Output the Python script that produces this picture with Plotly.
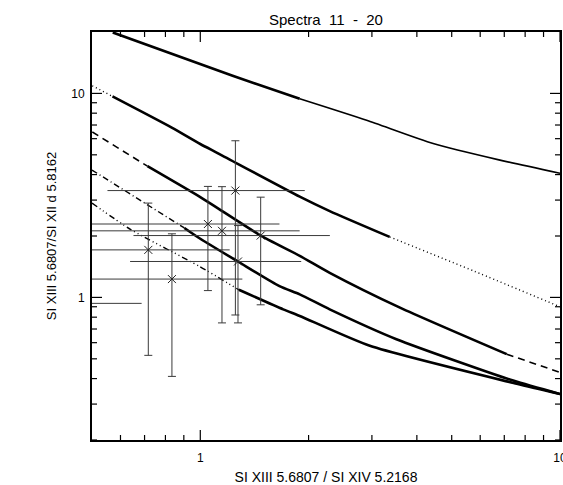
import plotly.graph_objects as go

# ---------------- data ----------------
# Curve A (top) : thick left part, thinner right part
a_x = [0.571, 1.23, 1.89, 2.90, 4.44, 6.81, 10.0]
a_y = [19.9, 12.2, 9.42, 7.39, 5.68, 4.71, 4.06]

# Curve B : dotted / solid / dotted
b_dot1_x = [0.501, 0.570]
b_dot1_y = [10.9, 9.67]
b_x = [0.570, 0.833, 1.0, 1.117, 1.89, 2.29, 3.36]
b_y = [9.67, 6.8, 5.65, 5.1, 3.12, 2.65, 1.98]
b_dot2_x = [3.36, 5.8, 10.0]
b_dot2_y = [1.98, 1.34, 0.90]

# Curve C : dashed / solid / dashed
c_dash1_x = [0.501, 0.713]
c_dash1_y = [6.47, 4.40]
c_x = [0.713, 0.995, 1.117, 1.472, 1.89, 2.29, 3.59, 7.11]
c_y = [4.40, 3.12, 2.74, 2.01, 1.60, 1.32, 0.891, 0.527]
c_dash2_x = [7.11, 10.0]
c_dash2_y = [0.527, 0.429]

# Curve D : dash-dot / solid
d_dd_x = [0.5, 0.903]
d_dd_y = [4.21, 2.19]
d_x = [0.903, 0.995, 1.272, 1.66, 1.89, 2.29, 3.51, 7.41, 10.0]
d_y = [2.19, 1.95, 1.50, 1.135, 1.035, 0.874, 0.624, 0.391, 0.336]

# Curve E : dash-dot-dot-dot / solid
e_ddd_x = [0.5, 0.641, 0.995, 1.28]
e_ddd_y = [2.90, 2.15, 1.42, 1.09]
e_x = [1.28, 1.70, 1.89, 2.96, 7.58, 10.0]
e_y = [1.09, 0.874, 0.811, 0.579, 0.377, 0.336]

# Measured ratios with symmetric errors
obs_x = [0.717, 0.834, 1.05, 1.149, 1.252, 1.273, 1.472, 0.42]
obs_y = [1.71, 1.23, 2.29, 2.12, 3.34, 1.50, 2.01, 0.935]
obs_xerr = [0.49, 0.475, 0.61, 0.74, 0.70, 0.635, 0.82, 0.267]
obs_yerr = [1.19, 0.82, 1.21, 1.37, 2.52, 0.75, 1.09, 0.50]

x_ticks = [1, 10]
x_ticktext = ["1", "10"]
x_minor = [0.6, 0.7, 0.8, 0.9, 2, 3, 4, 5, 6, 7, 8, 9]
y_ticks = [1, 10]
y_ticktext = ["1", "10"]
y_minor = [0.2, 0.3, 0.4, 0.5, 0.6, 0.7, 0.8, 0.9, 2, 3, 4, 5, 6, 7, 8, 9]

X_RANGE = [-0.30103, 1.0]
Y_RANGE = [-0.69897, 1.30103]

# ---------------- figure ----------------
W, H = 563, 485
ML, MR, MT, MB = 92, 3, 32, 45
PW, PH = W - ML - MR, H - MT - MB

fig = go.Figure()

def add_line(x, y, width, dash="solid"):
    fig.add_trace(go.Scatter(
        x=x, y=y, mode="lines",
        line=dict(color="black", width=width, dash=dash, shape="spline", smoothing=0.6),
        hoverinfo="skip", showlegend=False))

THICK = 2.6
THIN = 1.4

# curve A
add_line(a_x[:3], a_y[:3], THICK)
add_line(a_x[2:], a_y[2:], 1.7)
# curve B
add_line(b_dot1_x, b_dot1_y, THIN, "1px,3px")
add_line(b_x, b_y, THICK)
add_line(b_dot2_x, b_dot2_y, THIN, "1px,3px")
# curve C
add_line(c_dash1_x, c_dash1_y, 1.6, "7px,5px")
add_line(c_x, c_y, THICK)
add_line(c_dash2_x, c_dash2_y, 1.6, "7px,5px")
# curve D
add_line(d_dd_x, d_dd_y, THIN, "6px,3px,1px,3px")
add_line(d_x, d_y, THICK)
# curve E
add_line(e_ddd_x, e_ddd_y, THIN, "6px,3px,1px,3px,1px,3px,1px,3px")
add_line(e_x, e_y, THICK)

# observations
fig.add_trace(go.Scatter(
    x=obs_x, y=obs_y, mode="markers",
    marker=dict(symbol="x-thin", size=8, color="#222222", line=dict(color="#222222", width=1)),
    error_x=dict(type="data", array=obs_xerr, symmetric=True,
                 color="#3a3a3a", thickness=1, width=0),
    error_y=dict(type="data", array=obs_yerr, symmetric=True,
                 color="#3a3a3a", thickness=1, width=4),
    hoverinfo="skip", showlegend=False))

# IDL-style inside tick marks on all four sides, placed at the tick values
# through the axes' own log scale
tick_line = dict(color="black", width=1.2)
shapes = []
for vals, length in ((x_ticks, 10), (x_minor, 5)):
    f = length / PH
    for v in vals:
        shapes.append(dict(type="line", xref="x", yref="y domain",
                           x0=v, x1=v, y0=0, y1=f, line=tick_line))
        shapes.append(dict(type="line", xref="x", yref="y domain",
                           x0=v, x1=v, y0=1, y1=1 - f, line=tick_line))
for vals, length in ((y_ticks, 10), (y_minor, 5)):
    f = length / PW
    for v in vals:
        shapes.append(dict(type="line", xref="x domain", yref="y",
                           x0=0, x1=f, y0=v, y1=v, line=tick_line))
        shapes.append(dict(type="line", xref="x domain", yref="y",
                           x0=1, x1=1 - f, y0=v, y1=v, line=tick_line))

font_family = "Liberation Sans, Arial, sans-serif"
common = dict(showgrid=False, zeroline=False, automargin=False)

fig.update_layout(
    template="none",
    width=W, height=H,
    margin=dict(l=ML, r=MR, t=MT, b=MB, autoexpand=False),
    paper_bgcolor="white", plot_bgcolor="white",
    font=dict(family=font_family, size=12, color="black"),
    shapes=shapes,
    title=dict(text="Spectra\u00a0\u00a011\u00a0\u00a0-\u00a0\u00a020",
               x=0.5, xref="paper", xanchor="center",
               y=1 - 20 / H, yref="container", yanchor="middle",
               font=dict(size=15, family=font_family, color="black")),
    xaxis=dict(
        type="log", range=X_RANGE,
        showline=True, linecolor="black", linewidth=2, mirror=True,
        ticks="", tickmode="array", tickvals=x_ticks, ticktext=x_ticktext,
        ticklabeloverflow="allow", ticklabelstandoff=6,
        tickfont=dict(size=12, color="black"),
        title=dict(text="SI XIII 5.6807 / SI XIV 5.2168", standoff=8,
                   font=dict(size=14, color="black")),
        **common,
    ),
    yaxis=dict(
        type="log", range=Y_RANGE,
        showline=True, linecolor="black", linewidth=2, mirror=True,
        ticks="", tickmode="array", tickvals=y_ticks, ticktext=y_ticktext,
        ticklabeloverflow="allow", ticklabelstandoff=3,
        tickfont=dict(size=12, color="black"),
        title=dict(text="SI XIII 5.6807/SI XII d 5.8162", standoff=12,
                   font=dict(size=13, color="black")),
        **common,
    ),
)

fig.write_html("out.html", config={"displayModeBar": False, "staticPlot": True},
               post_script="document.body.style.margin='0';document.body.style.overflow='hidden';")
